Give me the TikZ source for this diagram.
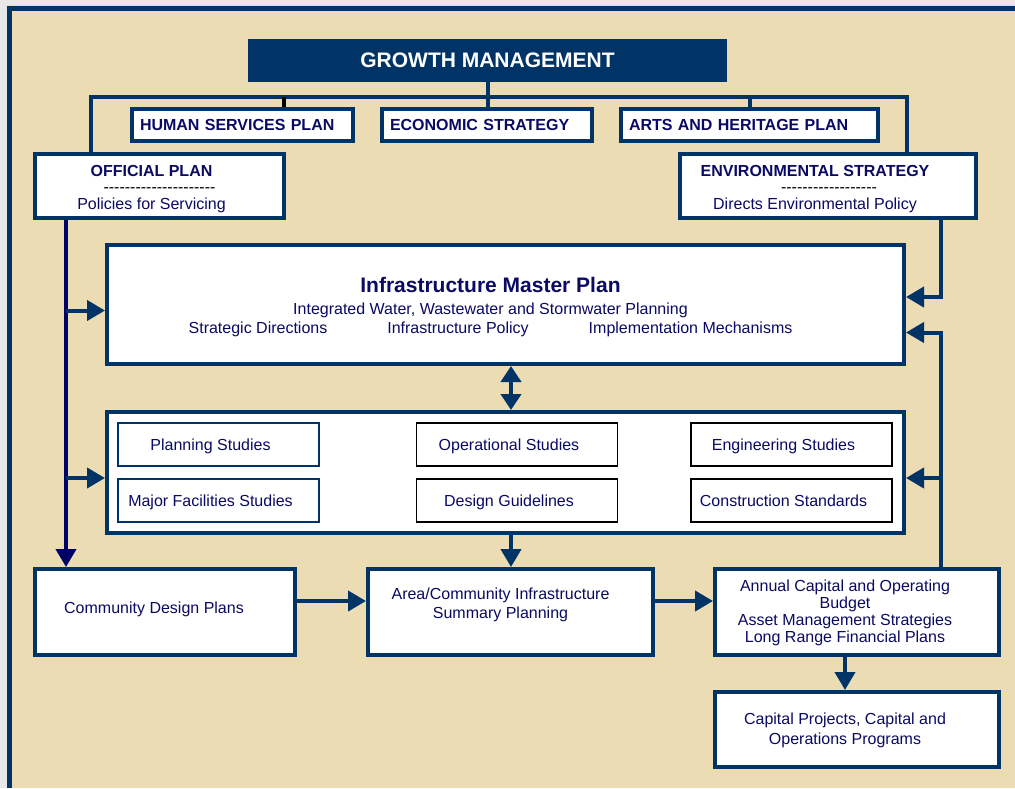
\documentclass[tikz,border=0pt]{standalone}
\usepackage{fontspec}
\setmainfont{Liberation Sans}
\usetikzlibrary{arrows.meta}

\definecolor{navy}{RGB}{0,51,102}
\definecolor{ink}{RGB}{10,10,100}
\definecolor{trunkblue}{RGB}{0,0,102}
\definecolor{parchment}{RGB}{236,220,180}
\definecolor{margin}{RGB}{232,232,232}

\newcommand{\dashrow}[1]{\hbox{\foreach \k in {1,...,#1}{\hbox{-}}}}

\begin{document}
\begin{tikzpicture}[
        x=1pt, y=-1pt,
        txt/.style={text=ink, align=center, font=\fontsize{16}{19}\selectfont},
        box/.style={draw=navy, line width=4pt, fill=white, inner sep=0pt},
        head/.style={txt, box, font=\bfseries\fontsize{16}{18}\selectfont, text width=#1, align=left, inner xsep=8pt, minimum height=32pt},
        study/.style 2 args={txt, draw=#1, line width=1.6pt, fill=white, minimum width=201pt, minimum height=43pt,
            label={[txt, text height=11.5pt, text depth=3.5pt, xshift=-8pt, yshift=-2pt]center:#2}},
        conn/.style={draw=navy, line width=4pt},
        arr/.style={conn, -{Triangle[length=18pt,width=20pt]}},
        stub/.style={draw=black, line width=4pt},
    ]
    \useasboundingbox (0,0) rectangle (1015,788);
    \fill[margin] (0,0) rectangle (1015,788);
    \fill[parchment] (7,5) rectangle (1015,788);
    \draw[navy, line width=5pt] (9.5,788) -- (9.5,8) -- (1015,8);

    % top row
    \node[fill=navy, text=white, font=\bfseries\fontsize{21}{24}\selectfont,
        minimum width=479pt, minimum height=43pt] (gm) at (487.5,60.5) {GROWTH MANAGEMENT};
    \node[head=205pt] (hsp) at (242.5,125) {HUMAN SERVICES PLAN};
    \node[head=194pt] (econ) at (487,125) {ECONOMIC STRATEGY};
    \node[head=241pt] (arts) at (749.5,125) {ARTS AND HERITAGE PLAN};

    \node[box, minimum width=249pt, minimum height=64pt,
        label={[txt, font=\fontsize{16}{16.5}\selectfont, xshift=-8pt, yshift=-3pt]center:{\textbf{OFFICIAL PLAN}\\
        \hspace*{16pt}{\color{black}\dashrow{21}}\\Policies for Servicing}}] (op) at (159.5,186) {};
    \node[box, minimum width=296pt, minimum height=64pt,
        label={[txt, font=\fontsize{16}{16.5}\selectfont, xshift=-13pt, yshift=-3pt]center:{\textbf{ENVIRONMENTAL STRATEGY}\\
        \hspace*{28pt}{\color{black}\dashrow{18}}\\Directs Environmental Policy}}] (env) at (828,186) {};

    % master plan and studies
    \node[box, minimum width=797pt, minimum height=119pt,
        label={[txt, xshift=-15pt, yshift=-3pt]center:{{\bfseries\fontsize{21}{24}\selectfont Infrastructure Master Plan}\\[3pt]
        Integrated Water, Wastewater and Stormwater Planning\\
        Strategic Directions\hspace{60pt}Infrastructure Policy\hspace{60pt}Implementation Mechanisms}}] (imp) at (505.5,304.5) {};

    \node[box, minimum width=797pt, minimum height=121pt] (stud) at (505.5,472.5) {};
    \node[study={navy}{Planning Studies}] (plan) at (218.5,444.5) {};
    \node[study={navy}{Major Facilities Studies}] (major) at (218.5,500.5) {};
    \node[study={black}{Operational Studies}] (oper) at (517,444.5) {};
    \node[study={black}{Design Guidelines}] (design) at (517,500.5) {};
    \node[study={black}{Engineering Studies}] (eng) at (791.5,444.5) {};
    \node[study={black}{Construction Standards}] (cons) at (791.5,500.5) {};

    % bottom row
    \node[box, minimum width=260pt, minimum height=86pt,
        label={[txt, xshift=-11pt, yshift=3pt]center:Community Design Plans}] (cdp) at (165,612) {};
    \node[box, minimum width=285pt, minimum height=86pt,
        label={[txt, xshift=-10pt, yshift=7pt]center:{Area/Community Infrastructure\\Summary Planning}}] (area) at (510.5,612) {};
    \node[box, minimum width=284pt, minimum height=86pt,
        label={[txt, font=\fontsize{16}{17}\selectfont, xshift=-12pt, yshift=-1pt]center:{Annual Capital and Operating\\Budget\\
        Asset Management Strategies\\Long Range Financial Plans}}] (annual) at (857,612) {};
    \node[box, minimum width=284pt, minimum height=75pt,
        label={[txt, font=\fontsize{16}{20}\selectfont, xshift=-12pt, yshift=-1pt]center:{Capital Projects, Capital and\\
        Operations Programs}}] (cap) at (857,729.5) {};

    % connectors
    \coordinate (busl) at (91,97);
    \coordinate (busr) at (907,97);
    \coordinate (hstub) at (284,97);
    \draw[conn] (busl |- op.north) -- (busl) -- (busr) -- (busr |- env.north);
    \draw[conn] (gm.south) -- (gm.south |- econ.north);
    \draw[stub] (hstub) -- (hstub |- hsp.north);
    \draw[conn] (arts.north |- busr) -- (arts.north);

    \coordinate (trunk) at (66,0);
    \coordinate (impl) at ([yshift=-6pt]imp.west);
    \coordinate (studl) at ([yshift=-5.5pt]stud.west);
    \draw[conn, draw=trunkblue, -{Triangle[length=18pt,width=20pt]}] (op.south -| trunk) -- (cdp.north -| trunk);
    \draw[arr] (impl -| trunk) -- (impl);
    \draw[arr] (studl -| trunk) -- (studl);

    \coordinate (rail) at (941,0);
    \coordinate (impr1) at ([yshift=7.5pt]imp.east);
    \coordinate (impr2) at ([yshift=-28pt]imp.east);
    \coordinate (studr) at ([yshift=-5.5pt]stud.east);
    \draw[arr] (env.south -| rail) |- (impr1);
    \draw[arr] (annual.north -| rail) |- (impr2);
    \draw[arr] (studr -| rail) -- (studr);

    \coordinate (mid) at (511,0);
    \draw[conn, {Triangle[length=16pt,width=20pt]}-{Triangle[length=16pt,width=20pt]}] (imp.south -| mid) -- (stud.north -| mid);
    \draw[arr] (stud.south -| mid) -- (area.north -| mid);

    \coordinate (flow) at ([yshift=11pt]cdp.east);
    \draw[arr] (flow) -- (flow -| area.west);
    \draw[arr] (flow -| area.east) -- (flow -| annual.west);
    \coordinate (down) at ([xshift=-12pt]annual.south);
    \draw[arr] (down) -- (down |- cap.north);
\end{tikzpicture}
\end{document}
